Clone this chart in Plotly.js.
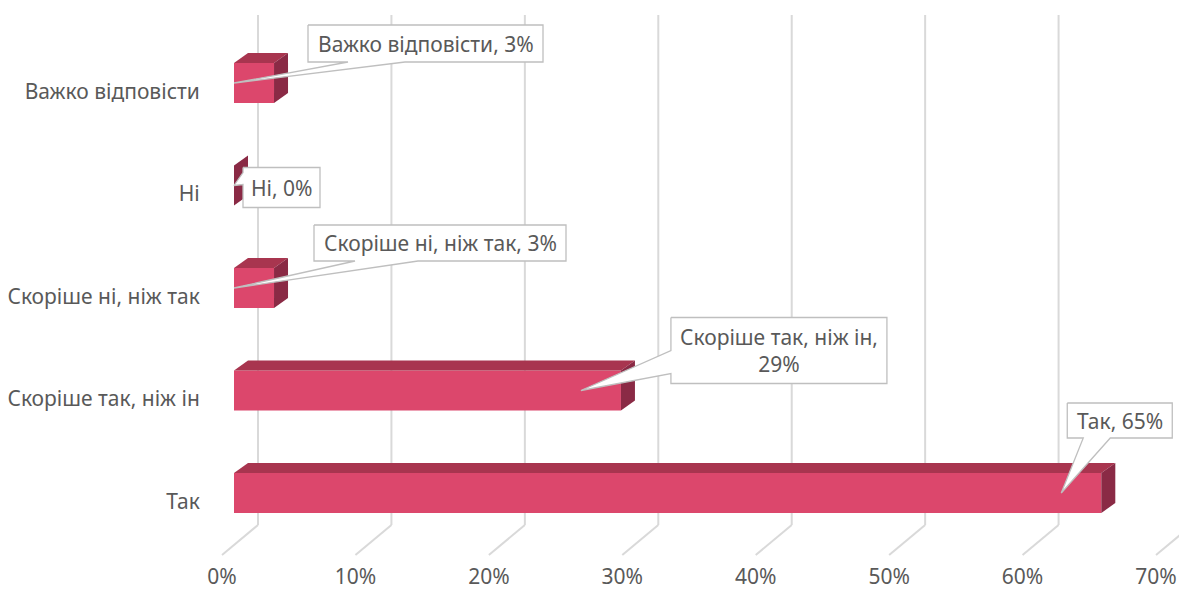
<!DOCTYPE html>
<html>
<head>
<meta charset="utf-8">
<script src="https://cdn.plot.ly/plotly-3.0.1.min.js"></script>
<style>html,body{margin:0;padding:0;background:#fff;}#chart{width:1179px;height:591px;}</style>
</head>
<body>
<div id="chart"></div>
<script>
// ---- data ----
const categories = ["Так", "Скоріше так, ніж ін", "Скоріше ні, ніж так", "Ні", "Важко відповісти"];
const values = [65, 29, 3, 0, 3];
const tickValues = [0, 10, 20, 30, 40, 50, 60, 70];
const tickLabels = ["0%", "10%", "20%", "30%", "40%", "50%", "60%", "70%"];

// ---- layout geometry (pixels) ----
const W = 1179, H = 591;
const mL = 206, mR = 0, mT = 15, mB = 66;
const X0 = 234;            // pixel of 0 on the front plane
const SX = 13.343;         // px per percent
const Y0 = 493;            // pixel of first category centre
const SY = 102.5;          // px per category
const DEPTH_X = 14, DEPTH_Y = 10, BAR_H = 40;
const BACK_OFF = 24, FRONT_OFF = -12, FLOOR_DROP = 30;
const FONT = "Noto Sans, sans-serif";
const TXT = "#595959";
const GRID = "#D9D9D9";
const C_FRONT = "#DC476C", C_TOP = "#A8354F", C_SIDE = "#8A2A45";

const xRange = [(mL - X0) / SX, (W - mR - X0) / SX];
const yRange = [(Y0 - (H - mB)) / SY, (Y0 - mT) / SY];
const plotH = H - mT - mB;

// callout layout, relative to the pointer tip, in px (y down)
const callouts = [
  {box: [6, 111, -90, -55], side: "bottom", w: [22, 49], wrap: false},
  {box: [90, 306, -73, -7], side: "left", w: [-40, -17], wrap: true},
  {box: [80, 332, -63, -27], side: "bottom", w: [121, 184], wrap: false},
  {box: [9, 86, -18, 22], side: "left", w: [-13, -1], wrap: false},
  {box: [74, 309, -58, -21], side: "bottom", w: [114, 171], wrap: false}
];
const TIP_BACK = 3; // pointer lands this far (in %) before the bar end

const dx = DEPTH_X / SX, dy = DEPTH_Y / SY, hh = BAR_H / 2 / SY;
const ys = categories.map((c, i) => i);

const traces = [];
// front faces
traces.push({
  type: "bar", orientation: "h", y: ys, x: values, base: 0, width: BAR_H / SY,
  marker: {color: C_FRONT, line: {width: 0}}, hoverinfo: "skip", showlegend: false
});
// top & side faces
values.forEach((v, i) => {
  const c = ys[i];
  traces.push({
    type: "scatter", mode: "lines", fill: "toself", fillcolor: C_TOP,
    line: {width: 0, color: C_TOP}, hoverinfo: "skip", showlegend: false,
    x: [0, v, v + dx, dx, 0], y: [c + hh, c + hh, c + hh + dy, c + hh + dy, c + hh]
  });
  traces.push({
    type: "scatter", mode: "lines", fill: "toself", fillcolor: C_SIDE,
    line: {width: 0, color: C_SIDE}, hoverinfo: "skip", showlegend: false,
    x: [v, v, v + dx, v + dx, v], y: [c - hh, c + hh, c + hh + dy, c - hh + dy, c - hh]
  });
});

// callouts
const annotations = [];
values.forEach((v, i) => {
  const co = callouts[i];
  const tx = Math.max(0, v - TIP_BACK), ty = ys[i];
  const [l, r, t, b] = co.box;
  let pts;
  if (co.side === "bottom") {
    pts = [[l, t], [r, t], [r, b], [co.w[1], b], [0, 0], [co.w[0], b], [l, b], [l, t]];
  } else {
    pts = [[l, t], [r, t], [r, b], [l, b], [l, co.w[1]], [0, 0], [l, co.w[0]], [l, t]];
  }
  traces.push({
    type: "scatter", mode: "lines", fill: "toself", fillcolor: "#FFFFFF",
    line: {width: 1.3, color: "#BFBFBF"}, hoverinfo: "skip", showlegend: false,
    x: pts.map(p => tx + p[0] / SX), y: pts.map(p => ty - p[1] / SY)
  });
  const txt = categories[i] + "," + (co.wrap ? "<br>" : " ") + v + "%";
  annotations.push({
    x: tx + (l + r) / 2 / SX, y: ty - (t + b) / 2 / SY, xref: "x", yref: "y",
    text: txt, showarrow: false, font: {family: FONT, size: 21, color: TXT},
    align: "center", xanchor: "center", yanchor: "middle"
  });
});

// gridlines on back wall and floor
const shapes = [];
tickValues.forEach(t => {
  const xb = t + BACK_OFF / SX, xf = t + FRONT_OFF / SX;
  shapes.push({type: "line", layer: "below", xref: "x", yref: "paper", x0: xb, x1: xb, y0: 0, y1: 1,
    line: {color: GRID, width: 2}});
  shapes.push({type: "line", layer: "below", xref: "x", yref: "paper", x0: xb, x1: xf, y0: 0, y1: -FLOOR_DROP / plotH,
    line: {color: GRID, width: 2}});
});

const layout = {
  width: W, height: H,
  margin: {l: mL, r: mR, t: mT, b: mB, pad: 0},
  paper_bgcolor: "#FFFFFF", plot_bgcolor: "rgba(0,0,0,0)",
  showlegend: false,
  xaxis: {
    range: xRange, fixedrange: true, showgrid: false, zeroline: false, showline: false,
    tickmode: "array", tickvals: tickValues.map(t => t + FRONT_OFF / SX), ticktext: tickLabels,
    ticks: "outside", ticklen: 33, tickcolor: "rgba(0,0,0,0)",
    tickfont: {family: FONT, size: 21, color: TXT}
  },
  yaxis: {
    range: yRange, fixedrange: true, showgrid: false, zeroline: false, showline: false,
    tickmode: "array", tickvals: ys.map(y => y - 8.5 / SY), ticktext: categories,
    ticks: "outside", ticklen: 1, tickcolor: "rgba(0,0,0,0)",
    tickfont: {family: FONT, size: 21, color: TXT}
  },
  shapes: shapes,
  annotations: annotations
};

Plotly.newPlot("chart", traces, layout, {displayModeBar: false, staticPlot: true});
</script>
</body>
</html>
